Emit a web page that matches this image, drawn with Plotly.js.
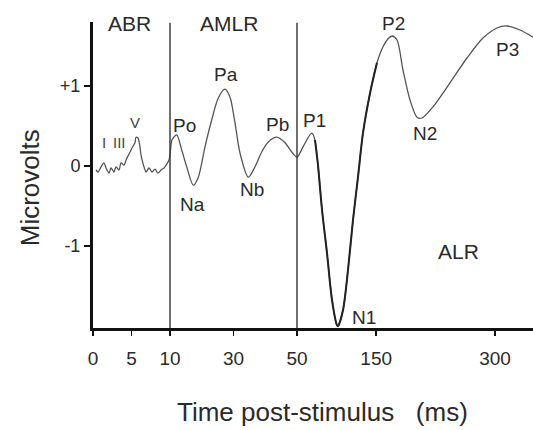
<!DOCTYPE html>
<html>
<head>
<meta charset="utf-8">
<script src="https://cdn.plot.ly/plotly-3.0.1.min.js"></script>
<style>html,body{margin:0;padding:0;background:#fff;}#chart{width:533px;height:430px;}</style>
</head>
<body>
<div id="chart"></div>
<script>
// ---- data (time in ms, amplitude in microvolts) ----
var timeMs = [0.39,0.65,1.04,1.43,1.69,2.08,2.34,2.73,2.99,3.38,3.64,4.03,4.29,4.81,5.06,5.45,5.58,5.84,6.10,6.23,6.62,6.88,7.27,7.66,8.05,8.44,8.83,9.22,9.48,9.87,
  10.16,10.63,12.11,13.69,15.26,17.34,18.91,21.02,23.13,25.21,27.32,28.90,30.47,32.05,34.66,36.77,38.88,40.96,43.61,46.22,48.35,50.0,
  57.6,68.6,72.7,76.5,81.6,87.9,94.2,100.5,101.8,108.1,114.4,120.7,127.0,133.3,142.2,151.0,158.6,165.0,170.0,176.3,183.8,192.7,201.5,207.8,221.7,243.2,264.6,284.8,302.5,315.2,331.6,348.0,363.0];
var microvolts = [-0.05,-0.075,-0.01,0.04,-0.025,-0.09,-0.025,-0.075,-0.01,-0.05,0.04,0.01,0.075,0.175,0.225,0.29,0.36,0.35,0.24,0.14,-0.01,-0.075,-0.025,-0.075,-0.04,-0.09,-0.05,-0.025,0.01,0.075,
  0.20,0.325,0.39,0.20,-0.01,-0.24,-0.14,0.24,0.575,0.85,0.96,0.86,0.54,0.16,-0.14,-0.01,0.175,0.30,0.36,0.29,0.175,0.11,
  0.24,0.41,0.325,0.01,-0.55,-1.09,-1.675,-1.99,-2.0,-1.8,-1.3,-0.675,-0.14,0.41,0.91,1.29,1.49,1.59,1.625,1.575,1.2,0.825,0.61,0.60,0.74,1.04,1.35,1.60,1.725,1.75,1.70,1.61,1.51];

// tick labels of the time axis (ms)
var tickMs = [0, 5, 10, 30, 50, 150, 300];
var tickText = ['0', '5', '10', '30', '50', '150', '300'];
var yTickVals = [-1, 0, 1];
var yTickText = ['-1', '0', '+1'];

// boundaries between response regions (ms)
var regionBoundsMs = [10, 50];
var regionNames = ['ABR', 'AMLR', 'ALR'];
var regionLabelMs = [4.8, 28.6, 254.5];
var regionLabelUv = [1.78, 1.78, -1.07];

// peak labels
var peakNames = ['I', 'III', 'V', 'Po', 'Na', 'Pa', 'Nb', 'Pb', 'P1', 'N1', 'P2', 'N2', 'P3'];
var peakLabelMs = [1.43, 3.44, 5.5, 14.57, 17.0, 27.6, 35.9, 43.8, 71.5, 134, 171.8, 212.2, 315.8];
var peakLabelUv = [0.30, 0.30, 0.54, 0.51, -0.475, 1.14, -0.29, 0.52, 0.57, -1.89, 1.78, 0.41, 1.46];

var xTitle = 'Time post-stimulus&nbsp;&nbsp;&nbsp;(ms)';
var yTitle = 'Microvolts';

// ---- piecewise time scale (three segments: ABR / AMLR / ALR) ----
var scaleMs = [0, 10, 50, 300];
var scaleUnits = [0, 77, 204, 402];
function tpos(ms) {
  for (var i = 0; i < scaleMs.length - 2; i++) {
    if (ms <= scaleMs[i + 1]) break;
  }
  var a = scaleMs[i], b = scaleMs[i + 1];
  return scaleUnits[i] + (ms - a) * (scaleUnits[i + 1] - scaleUnits[i]) / (b - a);
}

var xs = timeMs.map(tpos);
// darker, heavier stroke around N1
var thickStart = timeMs.indexOf(72.7), thickEnd = timeMs.indexOf(151.0);

var FONT = 'Liberation Sans, Arial, Helvetica, sans-serif';
var TXT = '#2a2a2a';

var traces = [
  {x: xs, y: microvolts, type: 'scatter', mode: 'lines',
   line: {color: '#555', width: 1.3, shape: 'spline', smoothing: 0.8}, hoverinfo: 'skip'},
  {x: xs.slice(thickStart, thickEnd + 1), y: microvolts.slice(thickStart, thickEnd + 1), type: 'scatter', mode: 'lines',
   line: {color: '#222', width: 2, shape: 'spline', smoothing: 0.8}, hoverinfo: 'skip'}
];

var shapes = regionBoundsMs.map(function (ms) {
  return {type: 'line', xref: 'x', yref: 'y', x0: tpos(ms), x1: tpos(ms), y0: -2.025, y1: 1.79,
          line: {color: '#333', width: 1.4}};
});

var annotations = [];
regionNames.forEach(function (n, i) {
  annotations.push({x: tpos(regionLabelMs[i]), y: regionLabelUv[i], xref: 'x', yref: 'y', text: n,
    showarrow: false, font: {family: FONT, size: 21, color: TXT}});
});
peakNames.forEach(function (n, i) {
  var small = i < 3;
  annotations.push({x: tpos(peakLabelMs[i]), y: peakLabelUv[i], xref: 'x', yref: 'y', text: n,
    showarrow: false, font: {family: FONT, size: small ? 15 : 19, color: small ? '#444' : TXT}});
});
// axis titles placed as free text for exact positioning
annotations.push({xref: 'paper', yref: 'paper', x: 0.522, y: -0.275, xanchor: 'center', yanchor: 'middle',
  text: xTitle, showarrow: false, font: {family: FONT, size: 26, color: TXT}});
annotations.push({xref: 'paper', yref: 'paper', x: -0.143, y: 0.457, xanchor: 'center', yanchor: 'middle',
  text: yTitle, textangle: -90, showarrow: false, font: {family: FONT, size: 26, color: TXT}});

var layout = {
  width: 533, height: 430,
  margin: {l: 93, r: 0, t: 22, b: 102, pad: 0},
  paper_bgcolor: '#fff', plot_bgcolor: '#fff',
  showlegend: false,
  xaxis: {
    range: [0, 440], showgrid: false, zeroline: false,
    showline: true, linecolor: '#111', linewidth: 3,
    tickmode: 'array', tickvals: tickMs.map(tpos), ticktext: tickText,
    ticks: 'outside', ticklen: 5, tickwidth: 1.5, tickcolor: '#111',
    ticklabelstandoff: 6,
    tickfont: {family: FONT, size: 19, color: TXT}
  },
  yaxis: {
    range: [-2.025, 1.8], showgrid: false, zeroline: false,
    showline: true, linecolor: '#111', linewidth: 3,
    tickmode: 'array', tickvals: yTickVals, ticktext: yTickText,
    ticks: 'outside', ticklen: 6, tickwidth: 1.5, tickcolor: '#111',
    tickfont: {family: FONT, size: 18, color: TXT}
  },
  shapes: shapes,
  annotations: annotations
};

Plotly.newPlot('chart', traces, layout, {displayModeBar: false, staticPlot: true});
</script>
</body>
</html>
